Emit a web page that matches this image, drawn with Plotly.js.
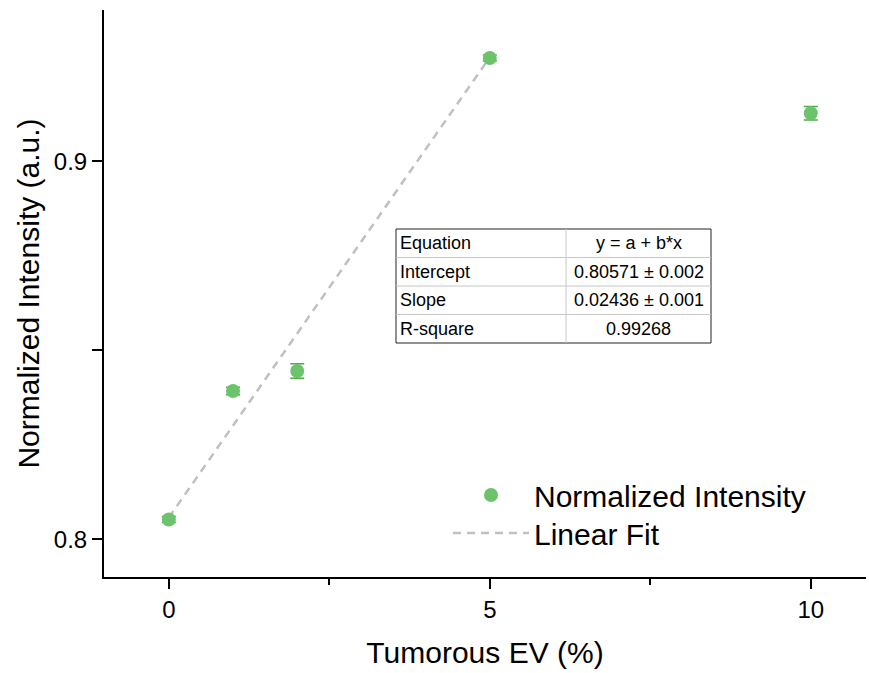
<!DOCTYPE html>
<html><head><meta charset="utf-8">
<script src="https://cdn.plot.ly/plotly-3.0.1.min.js"></script>
<style>body{margin:0;padding:0;}#chart{width:869px;height:673px;}</style>
</head><body><div id="chart"></div>
<script>
const xData = [0, 1, 2, 5, 10];
const yData = [0.8052, 0.8392, 0.8445, 0.9273, 0.9127];
const yErr = [0.0008, 0.0010, 0.0019, 0.0008, 0.0018];
const fitX = [0, 5];
const intercept = 0.80571, slope = 0.02436;
const fitY = fitX.map(x => intercept + slope * x);
const tableLabels = ["Equation", "Intercept", "Slope", "R-square"];
const tableValues = ["y = a + b*x", "0.80571 ± 0.002", "0.02436 ± 0.001", "0.99268"];

const W = 869, H = 673, L = 104, R = 3, T = 10, B = 96;
const pw = W - L - R, ph = H - T - B;
const px = v => (v - L) / pw;
const py = v => (H - B - v) / ph;

const traces = [
  {x: fitX, y: fitY, mode: 'lines', name: 'Linear Fit', legend: 'legend2',
   line: {color: '#c0c0c0', width: 2.5, dash: '8px,6px'}},
  {x: xData, y: yData, mode: 'markers', name: 'Normalized Intensity', legend: 'legend',
   marker: {color: '#6cc36c', size: 14},
   error_y: {type: 'data', array: yErr, visible: true, color: '#4daa4d', thickness: 1.5, width: 7}}
];

const shapes = [];
const annotations = [];
const tx0 = 396, tx1 = 711, tdiv = 566, ty0 = 229, rowH = 28.5;
shapes.push({type: 'rect', xref: 'paper', yref: 'paper', x0: px(tx0), x1: px(tx1), y0: py(ty0), y1: py(ty0 + 4 * rowH), line: {color: '#222', width: 1}, fillcolor: 'white', layer: 'above'});
for (let i = 1; i < 4; i++) {
  shapes.push({type: 'line', xref: 'paper', yref: 'paper', x0: px(tx0), x1: px(tx1), y0: py(ty0 + i * rowH), y1: py(ty0 + i * rowH), line: {color: '#c8c8c8', width: 1}, layer: 'above'});
}
shapes.push({type: 'line', xref: 'paper', yref: 'paper', x0: px(tdiv), x1: px(tdiv), y0: py(ty0), y1: py(ty0 + 4 * rowH), line: {color: '#c8c8c8', width: 1}, layer: 'above'});
for (let i = 0; i < 4; i++) {
  const yc = py(ty0 + (i + 0.5) * rowH);
  annotations.push({xref: 'paper', yref: 'paper', x: px(tx0 + 2), y: yc, xanchor: 'left', yanchor: 'middle', text: tableLabels[i], showarrow: false, font: {family: 'Liberation Sans, Arial', size: 18, color: '#000'}});
  annotations.push({xref: 'paper', yref: 'paper', x: px((tdiv + tx1) / 2), y: yc, xanchor: 'center', yanchor: 'middle', text: tableValues[i], showarrow: false, font: {family: 'Liberation Sans, Arial', size: 18, color: '#000'}});
}

const legCommon = {xanchor: 'left', yanchor: 'top', font: {size: 30}, bgcolor: 'rgba(0,0,0,0)', itemwidth: 76};
const layout = {
  width: W, height: H,
  margin: {l: L, r: R, t: T, b: B},
  paper_bgcolor: 'white', plot_bgcolor: 'white',
  font: {family: 'Liberation Sans, Arial', color: '#000'},
  showlegend: true,
  legend: Object.assign({x: px(448), y: py(469)}, legCommon),
  legend2: Object.assign({x: px(448), y: py(507)}, legCommon),
  xaxis: {range: [-1.01, 10.86], tickvals: [0, 5, 10], ticktext: ['0', '5', '10'], ticks: 'outside', ticklen: 10, tickwidth: 2, tickcolor: '#000',
    showline: true, linecolor: '#000', linewidth: 2, showgrid: false, zeroline: false, tickfont: {size: 24},
    minor: {tickvals: [2.5, 7.5], ticks: 'outside', ticklen: 6, tickwidth: 1.5, tickcolor: '#000', showgrid: false},
    title: {text: 'Tumorous EV (%)', font: {size: 30}, standoff: 20}},
  yaxis: {range: [0.79, 0.94], tickvals: [0.8, 0.9], ticktext: ['0.8', '0.9'], ticks: 'outside', ticklen: 10, tickwidth: 2, tickcolor: '#000',
    showline: true, linecolor: '#000', linewidth: 2, showgrid: false, zeroline: false, tickfont: {size: 24},
    minor: {tickvals: [0.85], ticks: 'outside', ticklen: 10, tickwidth: 1.5, tickcolor: '#000', showgrid: false},
    title: {text: 'Normalized Intensity (a.u.)', font: {size: 30}, standoff: 5}},
  shapes: shapes, annotations: annotations
};
Plotly.newPlot('chart', traces, layout, {displayModeBar: false});
</script></body></html>
